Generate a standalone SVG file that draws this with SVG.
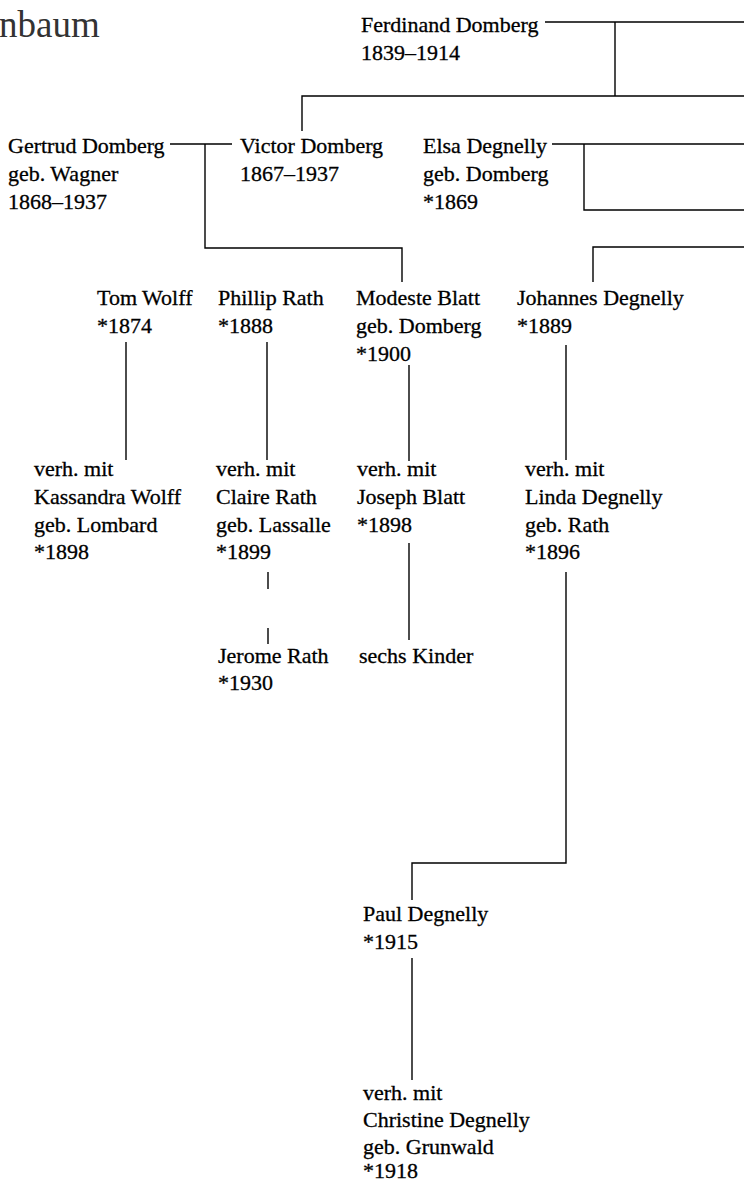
<svg xmlns="http://www.w3.org/2000/svg" width="744" height="1184" viewBox="0 0 744 1184">
  <style>
    text { font-family: "Liberation Serif", "Times New Roman", serif; font-size: 22px; fill: #000; stroke: #000; stroke-width: 0.3; }
    .title { font-size: 37px; fill: #333; stroke: none; }
    .conn { fill: none; stroke: #000; stroke-width: 1.4; }
  </style>
  <rect width="744" height="1184" fill="#fff"/>
  <text class="title" x="-1" y="37">nbaum</text>

  <g id="connectors">
    <path class="conn" d="M545 22 H744 M615 22 V96 M302 131 V96 H744"/>
    <path class="conn" d="M170 144 H232 M205 144 V248 H402 V282"/>
    <path class="conn" d="M552 144 H744 M584 144 V210 H744"/>
    <path class="conn" d="M593 282 V247 H744"/>
    <path class="conn" d="M126 342 V460"/>
    <path class="conn" d="M267 342 V460"/>
    <path class="conn" d="M409 365 V461"/>
    <path class="conn" d="M566 345 V460"/>
    <path class="conn" d="M268 572 V589 M268 628 V644"/>
    <path class="conn" d="M409 543 V640"/>
    <path class="conn" d="M566 572 V863 H412 V900"/>
    <path class="conn" d="M412 958 V1080"/>
  </g>

  <g id="ferdinand">
    <text x="361" y="32">Ferdinand Domberg</text>
    <text x="361" y="60">1839–1914</text>
  </g>
  <g id="gertrud">
    <text x="8" y="153">Gertrud Domberg</text>
    <text x="8" y="181">geb. Wagner</text>
    <text x="8" y="209">1868–1937</text>
  </g>
  <g id="victor">
    <text x="240" y="153">Victor Domberg</text>
    <text x="240" y="181">1867–1937</text>
  </g>
  <g id="elsa">
    <text x="423" y="153">Elsa Degnelly</text>
    <text x="423" y="181">geb. Domberg</text>
    <text x="423" y="209">*1869</text>
  </g>
  <g id="tom">
    <text x="97" y="305">Tom Wolff</text>
    <text x="97" y="333">*1874</text>
  </g>
  <g id="phillip">
    <text x="218" y="305">Phillip Rath</text>
    <text x="218" y="333">*1888</text>
  </g>
  <g id="modeste">
    <text x="356" y="305">Modeste Blatt</text>
    <text x="356" y="333">geb. Domberg</text>
    <text x="356" y="361">*1900</text>
  </g>
  <g id="johannes">
    <text x="517" y="305">Johannes Degnelly</text>
    <text x="517" y="333">*1889</text>
  </g>
  <g id="kassandra">
    <text x="34" y="476">verh. mit</text>
    <text x="34" y="504">Kassandra Wolff</text>
    <text x="34" y="532">geb. Lombard</text>
    <text x="34" y="559">*1898</text>
  </g>
  <g id="claire">
    <text x="216" y="476">verh. mit</text>
    <text x="216" y="504">Claire Rath</text>
    <text x="216" y="532">geb. Lassalle</text>
    <text x="216" y="559">*1899</text>
  </g>
  <g id="joseph">
    <text x="357" y="476">verh. mit</text>
    <text x="357" y="504">Joseph Blatt</text>
    <text x="357" y="532">*1898</text>
  </g>
  <g id="linda">
    <text x="525" y="476">verh. mit</text>
    <text x="525" y="504">Linda Degnelly</text>
    <text x="525" y="532">geb. Rath</text>
    <text x="525" y="559">*1896</text>
  </g>
  <g id="jerome">
    <text x="218" y="663">Jerome Rath</text>
    <text x="218" y="690">*1930</text>
  </g>
  <g id="sechs">
    <text x="359" y="663">sechs Kinder</text>
  </g>
  <g id="paul">
    <text x="363" y="921">Paul Degnelly</text>
    <text x="363" y="949">*1915</text>
  </g>
  <g id="christine">
    <text x="363" y="1100">verh. mit</text>
    <text x="363" y="1127">Christine Degnelly</text>
    <text x="363" y="1154">geb. Grunwald</text>
    <text x="363" y="1178">*1918</text>
  </g>
</svg>
